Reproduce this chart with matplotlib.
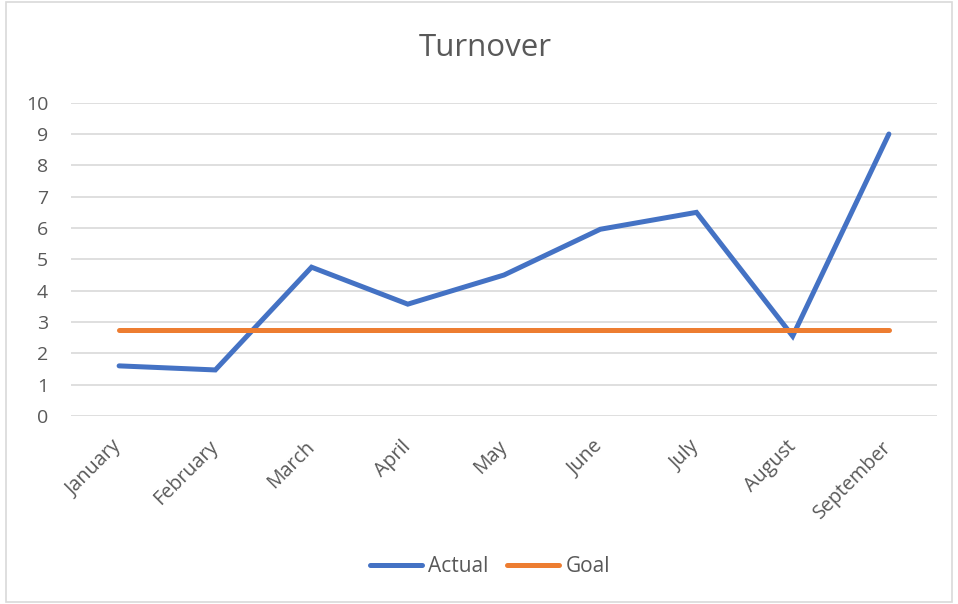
import matplotlib
matplotlib.use("Agg")
import matplotlib.pyplot as plt
import matplotlib.transforms as mtransforms
from matplotlib.patches import Rectangle

months = ["January", "February", "March", "April", "May", "June", "July", "August", "September"]
actual = [1.6, 1.47, 4.75, 3.57, 4.5, 5.96, 6.5, 2.55, 9.0]
goal = [2.75] * 9
yticks = list(range(0, 11))

plt.rcParams['font.family'] = ['Open Sans', 'DejaVu Sans']
txt = '#595959'

fig = plt.figure(figsize=(9.58, 6.04), dpi=100)
W, H = 958, 604
ax = fig.add_axes([71 / W, 1 - 416 / H, (937 - 71) / W, (416 - 102.7) / H])

x = list(range(len(months)))
ax.plot(x, actual, color='#4472C4', lw=3.6, solid_capstyle='round', solid_joinstyle='miter', label='Actual', zorder=3)
ax.plot(x, goal, color='#ED7D31', lw=3.6, solid_capstyle='round', label='Goal', zorder=3)

ax.set_xlim(-0.5, len(months) - 0.5)
ax.set_ylim(0, 10)
ax.set_yticks(yticks)
ax.set_yticklabels([str(v) for v in yticks], color=txt, fontsize=14)
ax.set_xticks(x)
ax.set_xticklabels(months, rotation=45, ha='right', rotation_mode='anchor', color=txt, fontsize=14.2)
ax.tick_params(axis='y', length=0, pad=16.5)
ax.tick_params(axis='x', length=0, pad=15)
offset = mtransforms.ScaledTranslation(-7 / 100, 0, fig.dpi_scale_trans)
for lab in ax.get_xticklabels():
    lab.set_transform(lab.get_transform() + offset)
ax.grid(axis='y', color='#d9d9d9', lw=1.2)
ax.set_axisbelow(True)
for s in ax.spines.values():
    s.set_visible(False)

fig.text(485.5 / W, 1 - 48 / H, "Turnover", ha='center', va='center', fontsize=22.5, color=txt)

leg = fig.legend(loc='center', bbox_to_anchor=(490 / W, 1 - 567 / H), ncol=2, frameon=False,
                 fontsize=15, handlelength=2.5, handletextpad=0.3, columnspacing=0.9)
for t in leg.get_texts():
    t.set_color(txt)

fig.patches.append(Rectangle((6 / W, 2 / H), (952 - 6) / W, (602 - 2) / H, transform=fig.transFigure,
                             fill=False, edgecolor='#d9d9d9', lw=1.2))

fig.savefig("out.png", dpi=100, facecolor='white')
